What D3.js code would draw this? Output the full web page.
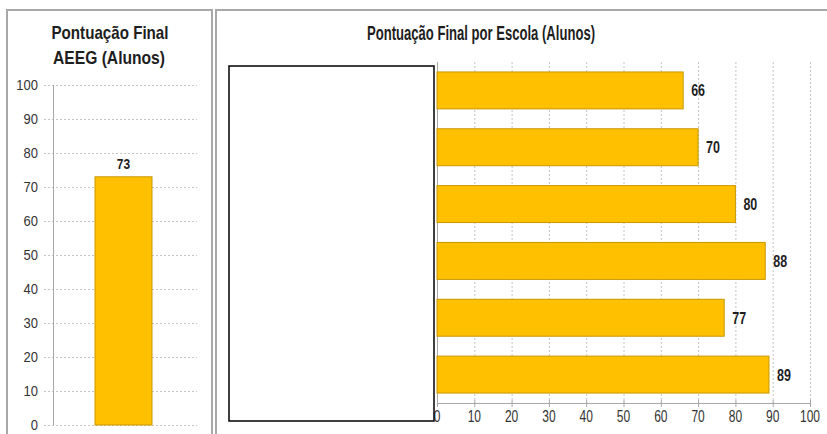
<!DOCTYPE html>
<html>
<head>
<meta charset="utf-8">
<script src="https://cdn.jsdelivr.net/npm/d3@7"></script>
<style>
  html, body { margin: 0; padding: 0; background: #fff; }
  svg { display: block; font-family: "Liberation Sans", Arial, sans-serif; }
</style>
</head>
<body>
<svg id="chart" width="827" height="434"></svg>
<script>
// ---- data ----
const aeegTitle = ["Pontuação Final", "AEEG (Alunos)"];
const aeegCategories = ["AEEG"];
const aeegValues = [73];

const schoolTitle = "Pontuação Final por Escola (Alunos)";
const schoolCategories = ["Escola 1", "Escola 2", "Escola 3", "Escola 4", "Escola 5", "Escola 6"];
const schoolValues = [66, 70, 80, 88, 77, 89];

const valueTicks = [0, 10, 20, 30, 40, 50, 60, 70, 80, 90, 100];

// ---- styles ----
const barFill = "#FFC000";
const barStroke = "#C99700";
const gridColor = "#c4c4c4";
const axisColor = "#a8a8a8";
const textColor = "#1e1e1e";
const tickColor = "#333";

const svg = d3.select("#chart");

function label(x, y, txt, size, weight, anchor, sy, len, color) {
  const g = svg.append("g").attr("transform", `translate(${x},${y}) scale(1,${sy})`);
  const t = g.append("text")
    .attr("x", 0).attr("y", 0)
    .attr("text-anchor", anchor)
    .attr("font-size", size)
    .attr("font-weight", weight)
    .attr("fill", color || textColor)
    .text(txt);
  if (len) t.attr("textLength", len).attr("lengthAdjust", "spacingAndGlyphs");
  return t;
}

// ---- panel frames ----
svg.append("path")
  .attr("d", "M7,434 V10 H212 V434")
  .attr("fill", "none").attr("stroke", "#a8a8a8").attr("stroke-width", 2);
svg.append("path")
  .attr("d", "M216,434 V10 H828")
  .attr("fill", "none").attr("stroke", "#a8a8a8").attr("stroke-width", 2);

// ================= LEFT CHART =================
const yL = d3.scaleLinear().domain([0, 100]).range([425, 85]);
const xL = d3.scaleBand().domain(aeegCategories).range([53, 194]).paddingInner(0).paddingOuter(0.737);

svg.append("g").selectAll("line").data(valueTicks).join("line")
  .attr("x1", 44).attr("x2", 197)
  .attr("y1", d => yL(d) + 0.5).attr("y2", d => yL(d) + 0.5)
  .attr("stroke", gridColor).attr("stroke-dasharray", "2,2").attr("stroke-width", 1);

svg.append("line")
  .attr("x1", 53.5).attr("x2", 53.5).attr("y1", yL(100)).attr("y2", yL(0))
  .attr("stroke", axisColor).attr("stroke-width", 1);

valueTicks.forEach(v => label(38, yL(v) + 5, String(v), 13, "normal", "end", 1.15, null, tickColor));

svg.append("g").selectAll("rect").data(aeegValues).join("rect")
  .attr("x", (d, i) => xL(aeegCategories[i]))
  .attr("width", xL.bandwidth())
  .attr("y", d => yL(d))
  .attr("height", d => yL(0) - yL(d))
  .attr("fill", barFill).attr("stroke", barStroke).attr("stroke-width", 1);

aeegValues.forEach((v, i) => {
  label(xL(aeegCategories[i]) + xL.bandwidth() / 2, yL(v) - 8, String(v), 12, "bold", "middle", 1.2);
});

label(110, 39, aeegTitle[0], 14, "bold", "middle", 1.3, 117);
label(109, 64, aeegTitle[1], 14, "bold", "middle", 1.3, 112);

// ================= RIGHT CHART =================
const xR = d3.scaleLinear().domain([0, 100]).range([437, 810]);
const yR = d3.scaleBand().domain(schoolCategories).range([62, 403]).paddingInner(0.35).paddingOuter(0.175);

svg.append("g").selectAll("line").data(valueTicks.filter(d => d > 0)).join("line")
  .attr("x1", d => xR(d) + 0.5).attr("x2", d => xR(d) + 0.5)
  .attr("y1", 62).attr("y2", 403)
  .attr("stroke", gridColor).attr("stroke-dasharray", "2,2").attr("stroke-width", 1);

svg.append("line")
  .attr("x1", 437.5).attr("x2", 437.5).attr("y1", 62).attr("y2", 403)
  .attr("stroke", axisColor).attr("stroke-width", 1);

svg.append("line")
  .attr("x1", 437).attr("x2", 810).attr("y1", 403.5).attr("y2", 403.5)
  .attr("stroke", axisColor).attr("stroke-width", 1);
svg.append("g").selectAll("line").data(valueTicks).join("line")
  .attr("x1", d => xR(d) + 0.5).attr("x2", d => xR(d) + 0.5)
  .attr("y1", 400).attr("y2", 407)
  .attr("stroke", axisColor).attr("stroke-width", 1);

valueTicks.forEach(v => label(xR(v), 422, String(v), 12, "normal", "middle", 1.3, null, tickColor));

svg.append("g").selectAll("rect").data(schoolValues).join("rect")
  .attr("x", xR(0))
  .attr("y", (d, i) => yR(schoolCategories[i]))
  .attr("width", d => xR(d) - xR(0))
  .attr("height", yR.bandwidth())
  .attr("fill", barFill).attr("stroke", barStroke).attr("stroke-width", 1);

schoolValues.forEach((v, i) => {
  label(xR(v) + 8, yR(schoolCategories[i]) + yR.bandwidth() / 2 + 6, String(v), 12.5, "bold", "start", 1.25);
});

label(481, 40, schoolTitle, 15, "bold", "middle", 1.35, 228);

// redaction box covering category labels
svg.append("rect")
  .attr("x", 229).attr("y", 66).attr("width", 205).attr("height", 355)
  .attr("fill", "#fff").attr("stroke", "#000").attr("stroke-width", 1.5);
</script>
</body>
</html>
